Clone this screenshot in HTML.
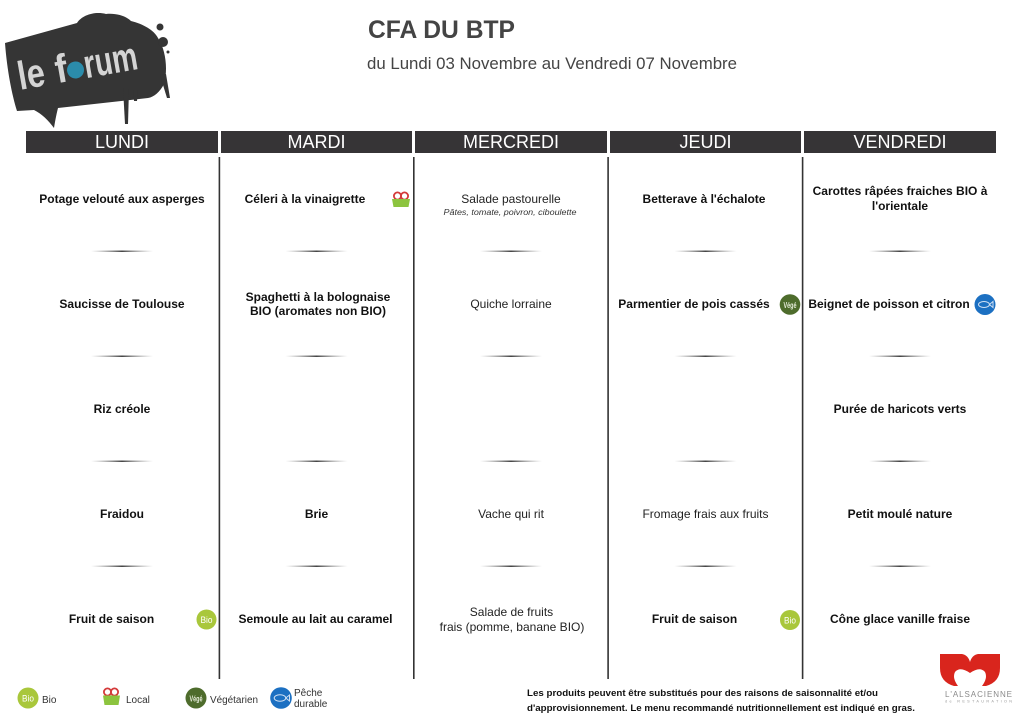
<!DOCTYPE html>
<html>
<head>
<meta charset="utf-8">
<style>
html,body{margin:0;padding:0;background:#fff;}
svg{display:block;}
text{font-family:"Liberation Sans",Arial,sans-serif;}
</style>
</head>
<body>
<svg width="1024" height="724" viewBox="0 0 1024 724" xmlns="http://www.w3.org/2000/svg">
<defs>
<linearGradient id="sep" x1="0" y1="0" x2="1" y2="0">
<stop offset="0" stop-color="#888" stop-opacity="0"/>
<stop offset="0.5" stop-color="#444" stop-opacity="1"/>
<stop offset="1" stop-color="#888" stop-opacity="0"/>
</linearGradient>
</defs>
<rect width="1024" height="724" fill="#fff"/>

<!-- Logo le forum -->
<g>
<path d="M5,43 L77,23 C82,15 95,11 106,14 C116,13 126,16 131,21 C143,24 154,30 158,38 C166,50 168,70 164,84 C160,92 154,97 148,98 L58,108 C56,116 55,122 54,128 C48,120 42,114 34,110 L17,111 C12,95 7,70 5,43 Z" fill="#353535"/>
<path d="M123,88 L129,88 L128,124 L125,124 Z" fill="#353535"/>
<path d="M133,90 L138,90 L137,101 L134,101 Z" fill="#353535"/>
<path d="M160,75 L166,74 L170,98 L167,98 Z" fill="#353535"/>
<circle cx="160" cy="27" r="3.5" fill="#353535"/>
<circle cx="152" cy="34" r="2" fill="#353535"/>
<circle cx="163" cy="42" r="5" fill="#353535"/>
<circle cx="168" cy="52" r="1.5" fill="#353535"/>
<g transform="rotate(-10,75,67)">
<text x="17" y="80" font-size="40" font-weight="bold" fill="#d4d4d4" textLength="27" lengthAdjust="spacingAndGlyphs">le</text>
<text x="55" y="80" font-size="40" font-weight="bold" fill="#d4d4d4" textLength="12" lengthAdjust="spacingAndGlyphs">f</text>
<circle cx="75" cy="70" r="8.5" fill="#2b8cab"/>
<text x="84" y="80" font-size="40" font-weight="bold" fill="#d4d4d4" textLength="54" lengthAdjust="spacingAndGlyphs">rum</text>
</g>
</g>

<!-- Title -->
<text x="368" y="38" font-size="25" font-weight="bold" fill="#444" textLength="147" lengthAdjust="spacingAndGlyphs">CFA DU BTP</text>
<text x="367" y="69" font-size="16.8" fill="#444" textLength="370" lengthAdjust="spacingAndGlyphs">du Lundi 03 Novembre au Vendredi 07 Novembre</text>

<!-- Header bars -->
<g fill="#363436">
<rect x="26" y="131" width="192" height="22"/>
<rect x="221" y="131" width="191" height="22"/>
<rect x="415" y="131" width="192" height="22"/>
<rect x="610" y="131" width="191" height="22"/>
<rect x="804" y="131" width="192" height="22"/>
</g>
<g fill="#fff" font-size="18" text-anchor="middle">
<text x="122" y="148">LUNDI</text>
<text x="316.5" y="148">MARDI</text>
<text x="511" y="148">MERCREDI</text>
<text x="705.5" y="148">JEUDI</text>
<text x="900" y="148">VENDREDI</text>
</g>

<!-- Vertical lines -->
<g fill="#333">
<rect x="218.6" y="157" width="1.6" height="522"/>
<rect x="413" y="157" width="1.6" height="522"/>
<rect x="607.3" y="157" width="1.6" height="522"/>
<rect x="801.8" y="157" width="1.6" height="522"/>
</g>

<!-- Separators -->
<g fill="url(#sep)">
<rect x="91" y="250.5" width="62" height="1.5"/>
<rect x="285.5" y="250.5" width="62" height="1.5"/>
<rect x="480" y="250.5" width="62" height="1.5"/>
<rect x="674.5" y="250.5" width="62" height="1.5"/>
<rect x="869" y="250.5" width="62" height="1.5"/>

<rect x="91" y="355.5" width="62" height="1.5"/>
<rect x="285.5" y="355.5" width="62" height="1.5"/>
<rect x="480" y="355.5" width="62" height="1.5"/>
<rect x="674.5" y="355.5" width="62" height="1.5"/>
<rect x="869" y="355.5" width="62" height="1.5"/>

<rect x="91" y="460.5" width="62" height="1.5"/>
<rect x="285.5" y="460.5" width="62" height="1.5"/>
<rect x="480" y="460.5" width="62" height="1.5"/>
<rect x="674.5" y="460.5" width="62" height="1.5"/>
<rect x="869" y="460.5" width="62" height="1.5"/>

<rect x="91" y="565.5" width="62" height="1.5"/>
<rect x="285.5" y="565.5" width="62" height="1.5"/>
<rect x="480" y="565.5" width="62" height="1.5"/>
<rect x="674.5" y="565.5" width="62" height="1.5"/>
<rect x="869" y="565.5" width="62" height="1.5"/>
</g>

<!-- Menu items: bold -->
<g font-size="12" font-weight="bold" fill="#111" text-anchor="middle">
<text x="122" y="203">Potage velouté aux asperges</text>
<text x="305" y="203">Céleri à la vinaigrette</text>
<text x="704" y="203">Betterave à l'échalote</text>
<text x="900" y="195">Carottes râpées fraiches BIO à</text>
<text x="900" y="210">l'orientale</text>

<text x="122" y="308">Saucisse de Toulouse</text>
<text x="318" y="301">Spaghetti à la bolognaise</text>
<text x="318" y="315">BIO (aromates non BIO)</text>
<text x="694" y="308">Parmentier de pois cassés</text>
<text x="889" y="308">Beignet de poisson et citron</text>

<text x="122" y="413">Riz créole</text>
<text x="900" y="413">Purée de haricots verts</text>

<text x="122" y="518">Fraidou</text>
<text x="316.5" y="518">Brie</text>
<text x="900" y="518">Petit moulé nature</text>

<text x="111.5" y="623">Fruit de saison</text>
<text x="315.5" y="623">Semoule au lait au caramel</text>
<text x="694.5" y="623">Fruit de saison</text>
<text x="900" y="623">Cône glace vanille fraise</text>
</g>

<!-- Menu items: regular -->
<g font-size="12" fill="#222" text-anchor="middle">
<text x="511" y="203">Salade pastourelle</text>
<text x="511" y="308">Quiche lorraine</text>
<text x="511" y="518">Vache qui rit</text>
<text x="705.5" y="518">Fromage frais aux fruits</text>
<text x="511.5" y="616">Salade de fruits</text>
<text x="512" y="631">frais (pomme, banane BIO)</text>
</g>
<text x="510" y="215" font-size="8" font-style="italic" fill="#333" text-anchor="middle" textLength="133" lengthAdjust="spacingAndGlyphs">Pâtes, tomate, poivron, ciboulette</text>

<!-- Icons in grid -->
<g>
<circle cx="206.5" cy="619.5" r="10" fill="#a9c73b"/>
<text x="206.5" y="623" font-size="9" fill="#fff" text-anchor="middle" textLength="12" lengthAdjust="spacingAndGlyphs">Bio</text>
</g>
<g>
<circle cx="790" cy="620" r="10" fill="#a9c73b"/>
<text x="790" y="623.5" font-size="9" fill="#fff" text-anchor="middle" textLength="12" lengthAdjust="spacingAndGlyphs">Bio</text>
</g>
<g>
<circle cx="397.5" cy="196" r="3.6" fill="none" stroke="#d43a3a" stroke-width="1.8"/>
<circle cx="404.5" cy="196" r="3.6" fill="none" stroke="#d43a3a" stroke-width="1.8"/>
<path d="M392,199 L410,199 L408.5,207 L393.5,207 Z" fill="#8cc43f"/>
</g>
<g>
<circle cx="790" cy="304.5" r="10.3" fill="#4e6c2c"/>
<text x="790" y="308" font-size="8" font-weight="bold" fill="#e8eedc" text-anchor="middle" textLength="13" lengthAdjust="spacingAndGlyphs">Végé</text>
</g>
<g>
<circle cx="985" cy="304.5" r="10.5" fill="#1c70c2"/>
<ellipse cx="984" cy="304.5" rx="5.5" ry="3" fill="none" stroke="#cfe0f4" stroke-width="1"/>
<path d="M989.5,304.5 L993,301.5 L993,307.5 Z" fill="none" stroke="#cfe0f4" stroke-width="1"/>
</g>

<!-- Legend -->
<g>
<circle cx="28" cy="698" r="10.5" fill="#a9c73b"/>
<text x="28" y="701.5" font-size="9" fill="#fff" text-anchor="middle" textLength="12" lengthAdjust="spacingAndGlyphs">Bio</text>
<text x="42" y="703" font-size="10" fill="#333">Bio</text>

<circle cx="107.5" cy="692" r="3.6" fill="none" stroke="#d43a3a" stroke-width="1.8"/>
<circle cx="114.5" cy="692" r="3.6" fill="none" stroke="#d43a3a" stroke-width="1.8"/>
<path d="M103,695.5 L120,695.5 L118.5,705 L104.5,705 Z" fill="#8cc43f"/>
<text x="126" y="703" font-size="10" fill="#333">Local</text>

<circle cx="196" cy="698" r="10.5" fill="#4e6c2c"/>
<text x="196" y="701.5" font-size="8" font-weight="bold" fill="#e8eedc" text-anchor="middle" textLength="13" lengthAdjust="spacingAndGlyphs">Végé</text>
<text x="210" y="703" font-size="10" fill="#333" textLength="48" lengthAdjust="spacingAndGlyphs">Végétarien</text>

<circle cx="281" cy="698" r="10.8" fill="#1c70c2"/>
<ellipse cx="280" cy="698" rx="5.8" ry="3.2" fill="none" stroke="#cfe0f4" stroke-width="1"/>
<path d="M285.8,698 L289.5,695 L289.5,701 Z" fill="none" stroke="#cfe0f4" stroke-width="1"/>
<text x="294" y="696" font-size="10" fill="#333">Pêche</text>
<text x="294" y="707" font-size="10" fill="#333">durable</text>
</g>

<!-- Footer note -->
<g font-size="9.5" font-weight="bold" fill="#111">
<text x="527" y="696" textLength="351" lengthAdjust="spacingAndGlyphs">Les produits peuvent être substitués pour des raisons de saisonnalité et/ou</text>
<text x="527" y="711" textLength="388" lengthAdjust="spacingAndGlyphs">d'approvisionnement. Le menu recommandé nutritionnellement est indiqué en gras.</text>
</g>

<!-- L'Alsacienne logo -->
<g>
<path d="M940,654 L962,654 Q968,655 970,662 Q972,655 978,654 L1000,654 L1000,668 Q1000,682 986,686 L982,686 Q988,678 985,672 Q980,666 970,673 Q960,666 955,672 Q952,678 958,686 L954,686 Q940,682 940,668 Z" fill="#d9251d"/>
<text x="945" y="697" font-size="8" fill="#8a8a8a" textLength="67" lengthAdjust="spacing">L'ALSACIENNE</text>
<text x="945" y="702.5" font-size="3.8" fill="#9a9a9a" textLength="67" lengthAdjust="spacing">de RESTAURATION</text>
</g>
</svg>
</body>
</html>
